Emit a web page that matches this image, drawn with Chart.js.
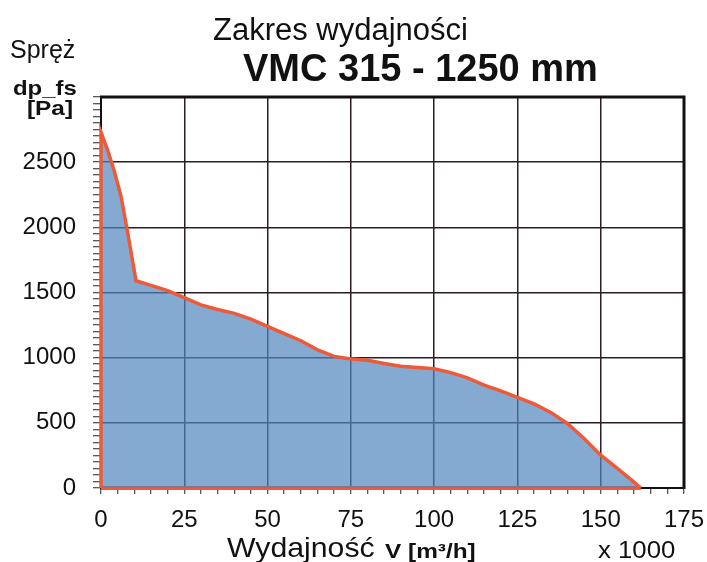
<!DOCTYPE html>
<html>
<head>
<meta charset="utf-8">
<script src="https://cdn.jsdelivr.net/npm/chart.js@4/dist/chart.umd.min.js"></script>
<style>
  html, body { margin: 0; padding: 0; background: #fff; }
  #wrap { position: relative; width: 707px; height: 562px; overflow: hidden; }
  canvas { position: absolute; left: 0; top: 0; }
  .t { position: absolute; white-space: nowrap; line-height: 1; color: #111;
       font-family: 'Liberation Sans', Arial, sans-serif; transform-origin: 0 0; }
  .b { font-weight: bold; }
</style>
</head>
<body>
<div id="wrap">
  <canvas id="c" width="707" height="562"></canvas>
  <div class="t" style="left:213px; top:14px; font-size:31px;">Zakres wydajności</div>
  <div class="t b" style="left:243px; top:49px; font-size:38px;">VMC 315 - 1250 mm</div>
  <div class="t" style="left:10px; top:37px; font-size:25px;">Spręż</div>
  <div class="t b" style="left:13px; top:77px; font-size:21px; transform:scaleX(1.14);">dp_fs</div>
  <div class="t b" style="left:27px; top:97px; font-size:21px; transform:scaleX(1.16);">[Pa]</div>
  <div class="t" style="left:227px; top:534px; font-size:28px; transform:scaleX(1.08);">Wydajność</div>
  <div class="t b" style="left:385px; top:540px; font-size:21px; transform:scaleX(1.16);">V [m³/h]</div>
  <div class="t" style="left:598px; top:539px; font-size:23px; transform:scaleX(1.12);">x 1000</div>
</div>
<script>
// ---- data (flow in thousands m3/h, pressure in Pa) ----
const flowK    = [0, 0, 2, 4, 6, 8, 10.5, 15, 20, 25, 30, 35, 40, 45, 50, 55, 60, 65, 70, 75, 80, 85, 90, 95, 100, 105, 110, 115, 120, 125, 130, 135, 140, 145, 150, 155, 160, 162];
const pressure = [0, 2730, 2590, 2430, 2240, 1960, 1590, 1555, 1515, 1460, 1405, 1370, 1340, 1295, 1240, 1185, 1130, 1060, 1010, 990, 980, 955, 935, 925, 915, 885, 845, 790, 745, 695, 645, 580, 495, 380, 252, 150, 45, 0];
const baseFlow = [0, 162];
const basePress = [0, 0];
const xTickStep = 25;
const yTickStep = 500;
const xMax = 175;
const yMax = 3000;

const areaPts = flowK.map((x, i) => ({ x: x, y: pressure[i] }));
const basePts = baseFlow.map((x, i) => ({ x: x, y: basePress[i] }));

const gridDark = '#2b1d26';
const red = '#ee5a38';
const font = 'Liberation Sans, Arial, sans-serif';

const frame = {
  id: 'frame',
  afterDatasetsDraw(chart) {
    const { ctx, chartArea: a } = chart;
    ctx.save();
    ctx.strokeStyle = '#111';
    ctx.lineWidth = 3;
    ctx.beginPath();
    ctx.moveTo(a.left - 1, a.top);
    ctx.lineTo(a.right, a.top);
    ctx.lineTo(a.right, a.bottom + 1);
    ctx.stroke();
    ctx.restore();
  }
};

new Chart(document.getElementById('c'), {
  type: 'line',
  data: {
    datasets: [
      {
        data: areaPts,
        fill: 'origin',
        backgroundColor: 'rgba(81,134,191,0.7)',
        borderColor: red,
        borderWidth: 3.5,
        pointRadius: 0,
        tension: 0,
        clip: 6
      },
      {
        data: basePts,
        fill: false,
        borderColor: red,
        borderWidth: 4,
        pointRadius: 0,
        clip: 6
      }
    ]
  },
  options: {
    responsive: false,
    animation: false,
    events: [],
    layout: { padding: { top: 97, right: 23, bottom: 0, left: 0 } },
    plugins: { legend: { display: false }, tooltip: { enabled: false }, title: { display: false } },
    scales: {
      x: {
        type: 'linear',
        min: 0, max: xMax,
        afterFit(s) { s.height = 74; s.paddingLeft = 0; s.paddingRight = 0; },
        border: { color: '#111', width: 2 },
        grid: {
          color: c => (c.tick && c.tick.value % xTickStep === 0) ? gridDark : 'rgba(0,0,0,0)',
          lineWidth: 1.5,
          tickColor: '#222',
          tickLength: 6,
          tickWidth: 1
        },
        ticks: {
          stepSize: 5,
          autoSkip: false,
          maxRotation: 0,
          padding: 12,
          color: '#111',
          font: { family: font, size: 24 },
          callback: v => (v % xTickStep === 0) ? String(v) : ''
        }
      },
      y: {
        min: 0, max: yMax,
        afterFit(s) { s.width = 101; s.paddingTop = 0; s.paddingBottom = 0; },
        border: { color: '#111', width: 2 },
        grid: {
          color: c => (c.tick && c.tick.value % yTickStep === 0) ? gridDark : 'rgba(0,0,0,0)',
          lineWidth: 1.5,
          tickColor: '#222',
          tickLength: 8,
          tickWidth: 1
        },
        ticks: {
          stepSize: 50,
          autoSkip: false,
          padding: 17,
          color: '#111',
          font: { family: font, size: 24 },
          callback: v => (v % yTickStep === 0 && v !== yMax) ? String(v) : ''
        }
      }
    }
  },
  plugins: [frame]
});
</script>
</body>
</html>
